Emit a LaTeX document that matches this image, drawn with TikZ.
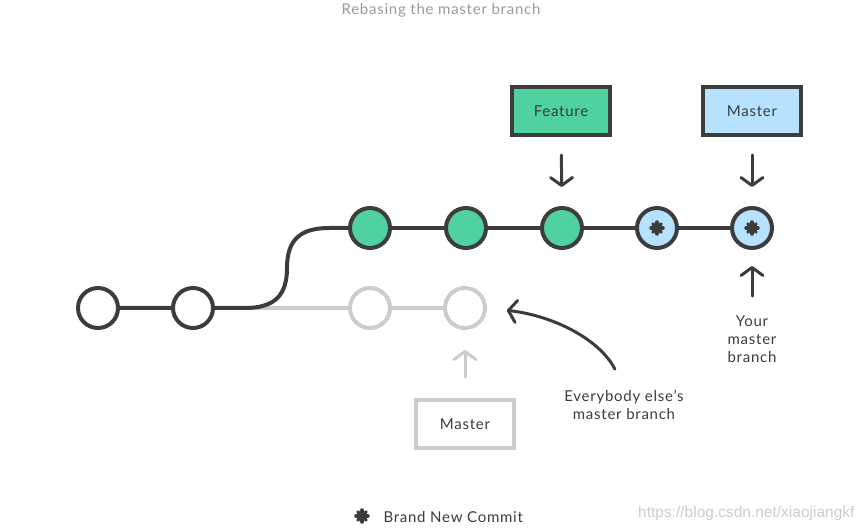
\documentclass[tikz,border=0pt]{standalone}
\usepackage{fontspec}
\setmainfont[LetterSpace=5]{Lato}
\newfontfamily\urlfont{Liberation Sans}
\usetikzlibrary{arrows.meta,calc}
\definecolor{ink}{HTML}{3C3C3C}
\definecolor{leaf}{HTML}{4FD1A0}
\definecolor{sky}{HTML}{B7E2FF}
\definecolor{ghost}{HTML}{CCCCCC}
\definecolor{mute}{HTML}{9A9A9A}

\begin{document}
\begin{tikzpicture}[x=1pt,y=-1pt,
    every node/.style={font=\fontsize{15}{17.5}\selectfont,text=ink},
    commit/.style={circle,draw=ink,line width=4,minimum size=40,inner sep=0},
    stamp/.style={path picture={
        \foreach \a in {0,45,90,135}
          \draw[ink,line width=3.5,line cap=round]
            ($(path picture bounding box.center)+(\a:6)$) -- ($(path picture bounding box.center)+(\a+180:6)$);}},
    newcommit/.style={commit,fill=sky,stamp},
    box/.style={draw=ink,line width=4,minimum width=98,minimum height=48,inner sep=0},
    branch/.style={line width=4},
    tip/.style={line width=3,line cap=round,-{Straight Barb[length=8pt,width=22pt,round]}}]
  \useasboundingbox (0,0) rectangle (865,529);

  \node[text=mute] (title) at (441,10) {Rebasing the master branch};

  % commits
  \node[commit] (c1) at (98,308) {};
  \node[commit] (c2) at (193,308) {};
  \foreach \n/\x in {g1/370,g2/465}
    \node[commit,draw=ghost] (\n) at (\x,308) {};
  \foreach \n/\x in {f1/370,f2/466,f3/562}
    \node[commit,fill=leaf] (\n) at (\x,228) {};
  \node[newcommit] (n1) at (657,228) {};
  \node[newcommit] (n2) at (752,228) {};
  \coordinate (fork) at (245,308);
  \coordinate (bend) at (287,268);

  % history
  \draw[branch,ghost] (c2) -- (g1) -- (g2);
  \draw[branch,ink] (c1) -- (c2) -- (fork)
    .. controls (275,308) and (287,295) .. (bend)
    .. controls (287,241) and (299,228) .. (329,228) -- (f1);
  \draw[branch,ink] (f1) -- (f2) -- (f3) -- (n1) -- (n2);

  % branch labels
  \node[box,fill=leaf] (feat) at (561,111) {Feature};
  \node[box,fill=sky] (mast) at (752,111) {Master};
  \node[box,draw=ghost,line width=3.5] (old) at (465,424) {Master};
  \node[align=center,font=\fontsize{15}{18}\selectfont] (yours) at (752,339) {Your\\master\\branch};
  \node[align=center] (others) at (624,405) {Everybody else’s\\master branch};

  \draw[tip,ink,shorten <=18pt,shorten >=19pt] (feat) -- (f3);
  \draw[tip,ink,shorten <=18pt,shorten >=19pt] (mast) -- (n2);
  \draw[tip,ink,shorten <=16pt,shorten >=16pt] (yours) -- (n2);
  \draw[tip,ghost,shorten <=21pt,shorten >=20pt] (old) -- (g2);
  \draw[tip,ink,shorten <=20pt,shorten >=20pt] (others.north)
    .. controls (600,340) and (555,316) .. (g2.east);

  % legend
  \node[stamp,minimum size=18] (key) at (362,516) {};
  \node[anchor=west] (keytext) at (380,517) {Brand New Commit};
  \node[anchor=east,text=ghost,font=\urlfont\fontsize{15.5}{17}\selectfont] (url) at (858,513) {https://blog.csdn.net/xiaojiangkf};
\end{tikzpicture}
\end{document}
